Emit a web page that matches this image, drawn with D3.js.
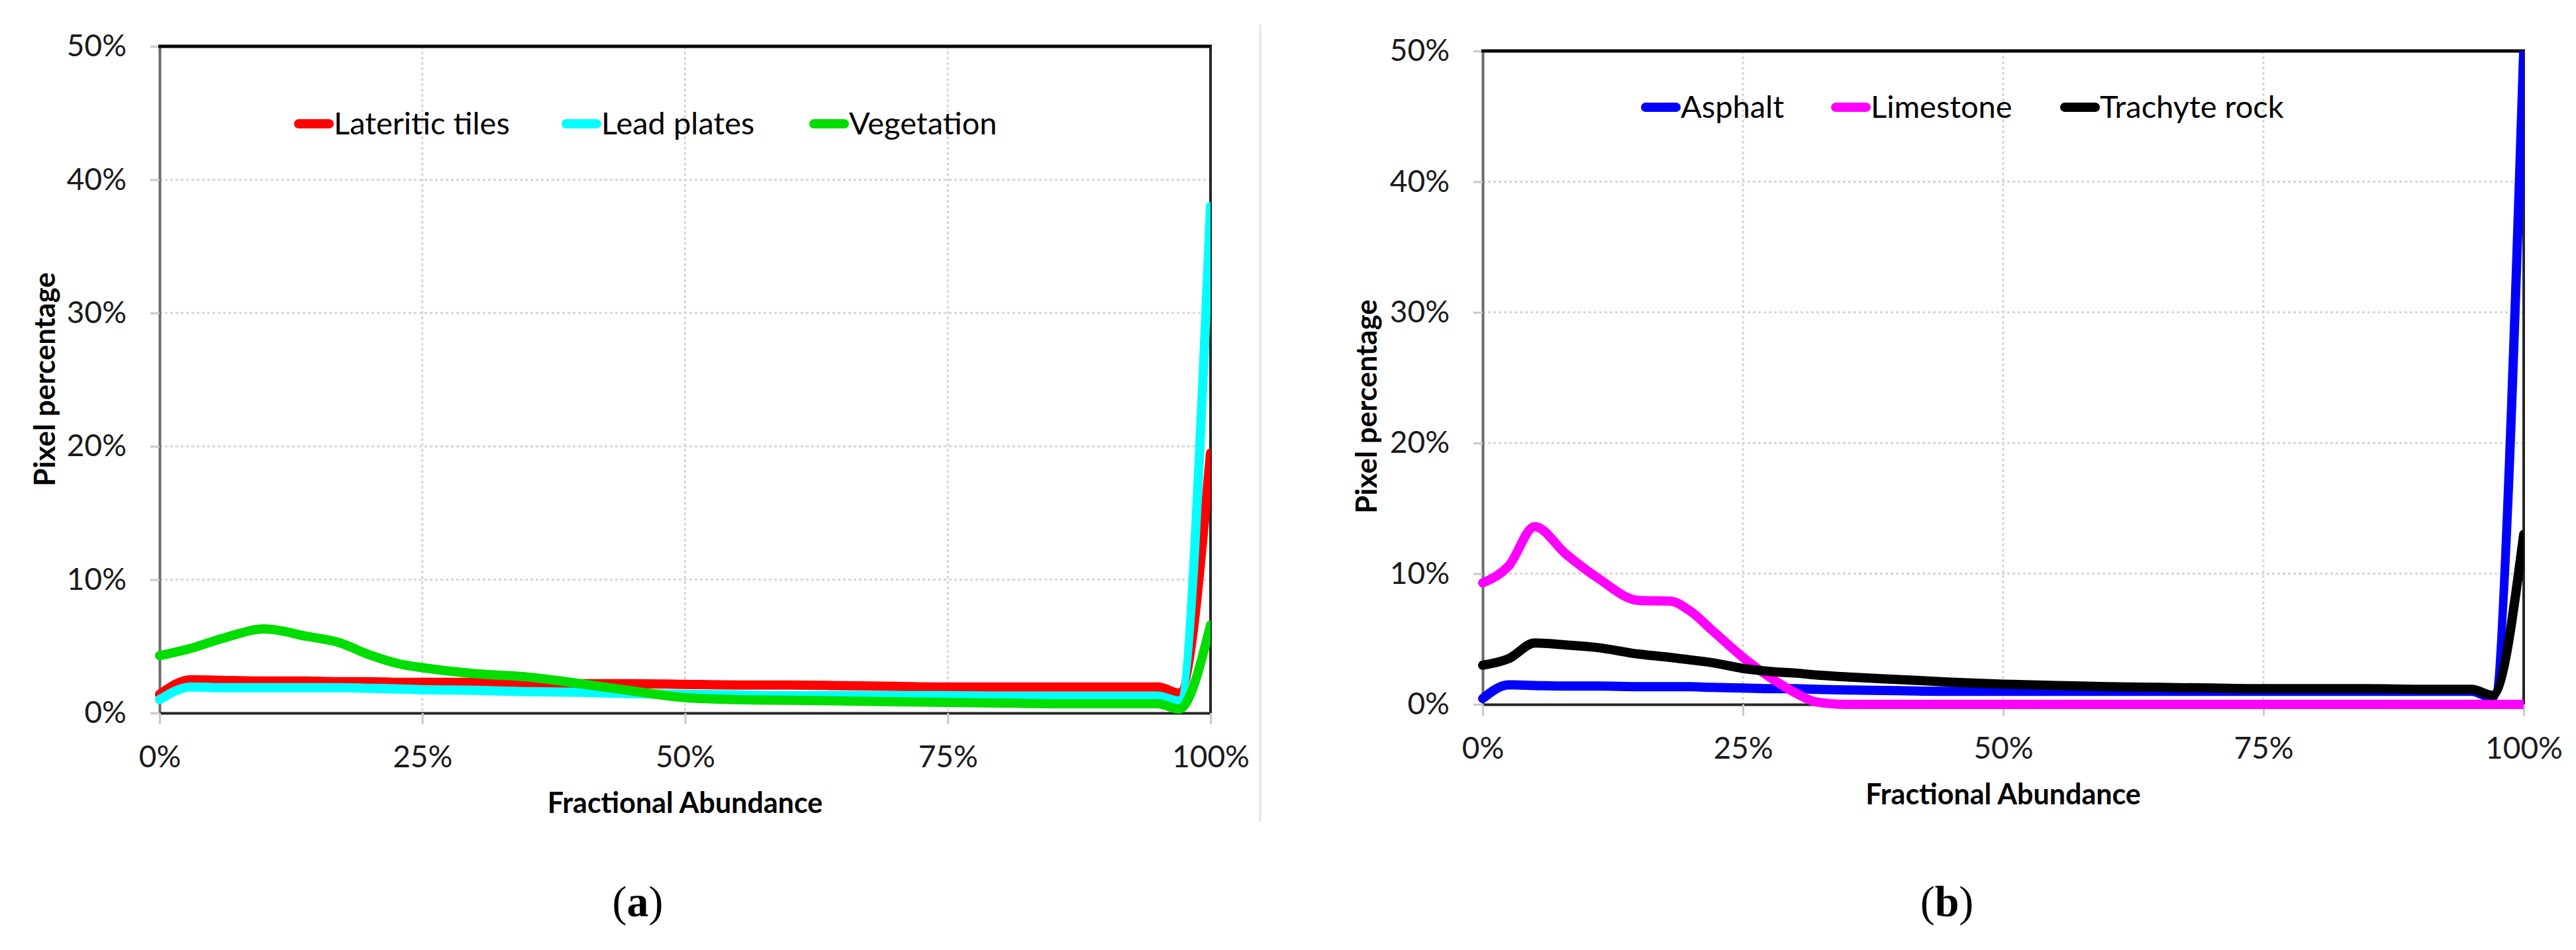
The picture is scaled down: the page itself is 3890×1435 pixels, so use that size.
<!DOCTYPE html>
<html>
<head>
<meta charset="utf-8">
<script src="https://cdn.jsdelivr.net/npm/d3@7"></script>
<style>
  body { margin: 0; background: #fff; }
  svg { display: block; }
</style>
</head>
<body>
<div id="svg-container"></div>
<script>
// axis ticks (percent)
const xTicks = [0, 25, 50, 75, 100]
const yTicks = [0, 10, 20, 30, 40, 50]

// panel (a) - fractional abundance (%) and pixel percentage (%)
const xA = [0, 3, 6, 10, 14, 17, 20, 23, 25, 30, 35, 40, 45, 50, 55, 60, 65, 70, 75, 80, 85, 90, 95, 97, 100]
const lateriticTiles = [1.4, 2.5, 2.45, 2.4, 2.4, 2.35, 2.35, 2.3, 2.3, 2.3, 2.25, 2.2, 2.2, 2.15, 2.1, 2.1, 2.05, 2.0, 1.95, 1.95, 1.95, 1.95, 1.95, 1.5, 19.5]
const leadPlates = [1.0, 1.95, 1.9, 1.9, 1.9, 1.9, 1.85, 1.8, 1.75, 1.7, 1.6, 1.55, 1.45, 1.4, 1.35, 1.3, 1.3, 1.3, 1.3, 1.25, 1.25, 1.25, 1.25, 0.9, 38]
const vegetation = [4.3, 4.85, 5.6, 6.3, 5.75, 5.3, 4.35, 3.65, 3.4, 2.95, 2.7, 2.2, 1.65, 1.15, 1.0, 0.95, 0.9, 0.85, 0.8, 0.75, 0.7, 0.7, 0.7, 0.3, 6.6]

// panel (b)
const xB = [0, 2.5, 5, 8, 11, 15, 18, 20, 22, 25, 28, 30, 32, 35, 40, 45, 50, 55, 60, 65, 70, 75, 80, 85, 90, 95, 97, 100]
const asphalt = [0.45, 1.5, 1.45, 1.4, 1.4, 1.35, 1.35, 1.35, 1.3, 1.25, 1.2, 1.2, 1.15, 1.1, 1.05, 1.0, 1.0, 1.0, 1.0, 1.0, 1.0, 1.0, 1.0, 1.0, 1.0, 1.0, 0.5, 50]
const limestone = [9.3, 10.6, 13.6, 11.5, 9.7, 7.95, 7.9, 7.1, 5.7, 3.6, 1.85, 0.9, 0.2, 0, 0, 0, 0, 0, 0, 0, 0, 0, 0, 0, 0, 0, 0, 0]
const trachyteRock = [3.0, 3.5, 4.7, 4.55, 4.35, 3.85, 3.6, 3.4, 3.2, 2.75, 2.5, 2.4, 2.25, 2.1, 1.9, 1.7, 1.55, 1.45, 1.35, 1.3, 1.25, 1.2, 1.2, 1.2, 1.15, 1.15, 0.7, 13.0]

const labelFont = 'Lato, "Open Sans", sans-serif'

const svg = d3
  .select('#svg-container')
  .append('svg')
  .attr('width', 3890)
  .attr('height', 1435)
  .attr('viewBox', '0 0 3890 1435')
  .style('background', '#fff')

// light separator between panels
svg
  .append('line')
  .attr('x1', 1903)
  .attr('x2', 1903)
  .attr('y1', 37)
  .attr('y2', 1241)
  .attr('stroke', '#e3e3e3')
  .attr('stroke-width', 3)

function drawPanel({ id, xValues, series, frame, legendY, legendXs, yTitle, caption }) {
  const { left, right, top, bottom } = frame

  const xScale = d3.scaleLinear().domain([0, 100]).range([left, right])
  const yScale = d3.scaleLinear().domain([0, 50]).range([bottom, top])

  const panel = svg.append('g').attr('class', `panel-${id}`)

  // grid (dotted)
  panel
    .append('g')
    .selectAll('line')
    .data(yTicks.filter(d => d > 0 && d < 50))
    .join('line')
    .attr('x1', left)
    .attr('x2', right)
    .attr('y1', d => yScale(d))
    .attr('y2', d => yScale(d))
    .attr('stroke', '#d6d6d6')
    .attr('stroke-width', 3)
    .attr('stroke-dasharray', '4 4')

  panel
    .append('g')
    .selectAll('line')
    .data(xTicks.filter(d => d > 0 && d < 100))
    .join('line')
    .attr('x1', d => xScale(d))
    .attr('x2', d => xScale(d))
    .attr('y1', top)
    .attr('y2', bottom)
    .attr('stroke', '#d6d6d6')
    .attr('stroke-width', 3)
    .attr('stroke-dasharray', '4 4')

  // y axis
  panel
    .append('g')
    .attr('transform', `translate(${left}, 0)`)
    .call(
      d3
        .axisLeft(yScale)
        .tickValues(yTicks)
        .tickSize(14)
        .tickSizeOuter(0)
        .tickPadding(36)
        .tickFormat(d => `${d}%`),
    )
    .call(g => {
      g.select('.domain').attr('stroke', '#6b6b6b').attr('stroke-width', 4)
      g.selectAll('.tick line').attr('stroke', '#c8c8c8').attr('stroke-width', 3)
      g.selectAll('.tick text')
        .attr('fill', '#1a1a1a')
        .style('font-family', labelFont)
        .style('font-size', '46px')
    })

  // x axis
  panel
    .append('g')
    .attr('transform', `translate(0, ${bottom})`)
    .call(
      d3
        .axisBottom(xScale)
        .tickValues(xTicks)
        .tickSize(17)
        .tickSizeOuter(0)
        .tickFormat(d => `${d}%`),
    )
    .call(g => {
      g.select('.domain').attr('stroke', '#262626').attr('stroke-width', 4)
      g.selectAll('.tick line').attr('stroke', '#c8c8c8').attr('stroke-width', 3)
      g.selectAll('.tick text')
        .attr('y', 66)
        .attr('dy', '0.35em')
        .attr('fill', '#1a1a1a')
        .style('font-family', labelFont)
        .style('font-size', '46px')
    })

  // top and right frame
  panel
    .append('line')
    .attr('x1', left - 2)
    .attr('x2', right + 2)
    .attr('y1', top)
    .attr('y2', top)
    .attr('stroke', '#000')
    .attr('stroke-width', 5)
  panel
    .append('line')
    .attr('x1', right)
    .attr('x2', right)
    .attr('y1', top)
    .attr('y2', bottom)
    .attr('stroke', '#262626')
    .attr('stroke-width', 4)

  // series lines
  panel
    .append('clipPath')
    .attr('id', `clip-${id}`)
    .append('rect')
    .attr('x', left - 10)
    .attr('y', top)
    .attr('width', right - left + 10)
    .attr('height', bottom - top + 10)

  const line = d3
    .line()
    .x((d, i) => xScale(xValues[i]))
    .y(d => yScale(d))
    .curve(d3.curveMonotoneX)

  panel
    .append('g')
    .attr('clip-path', `url(#clip-${id})`)
    .selectAll('path')
    .data(series)
    .join('path')
    .attr('d', s => line(s.values))
    .attr('fill', 'none')
    .attr('stroke', s => s.color)
    .attr('stroke-width', 14)
    .attr('stroke-linejoin', 'round')
    .attr('stroke-linecap', 'round')

  // legend
  const legend = panel
    .append('g')
    .attr('transform', `translate(0, ${legendY})`)
    .selectAll('g')
    .data(series)
    .join('g')
    .attr('transform', (s, i) => `translate(${legendXs[i]}, 0)`)

  legend
    .append('line')
    .attr('x1', 7)
    .attr('x2', 53)
    .attr('stroke', s => s.color)
    .attr('stroke-width', 14)
    .attr('stroke-linecap', 'round')

  legend
    .append('text')
    .attr('x', 60)
    .attr('dy', '0.35em')
    .style('font-family', labelFont)
    .style('font-size', '47px')
    .attr('fill', '#000')
    .text(s => s.name)

  // axis titles
  panel
    .append('text')
    .attr('x', (left + right) / 2)
    .attr('y', bottom + 136)
    .attr('dy', '0.35em')
    .attr('text-anchor', 'middle')
    .style('font-family', labelFont)
    .style('font-weight', 'bold')
    .style('font-size', '43px')
    .text('Fractional Abundance')

  panel
    .append('text')
    .attr('transform', `translate(${yTitle.x}, ${yTitle.y}) rotate(-90)`)
    .attr('text-anchor', 'middle')
    .style('font-family', labelFont)
    .style('font-weight', 'bold')
    .style('font-size', '44px')
    .text('Pixel percentage')

  // caption (a) / (b)
  const cap = svg
    .append('text')
    .attr('x', caption.x)
    .attr('y', 1361)
    .attr('dy', '0.35em')
    .attr('text-anchor', 'middle')
    .style('font-family', '"Liberation Serif", "DejaVu Serif", serif')
    .style('font-size', '66px')
  cap.append('tspan').text('(')
  cap.append('tspan').style('font-weight', 'bold').text(caption.letter)
  cap.append('tspan').text(')')
}

drawPanel({
  id: 'a',
  xValues: xA,
  series: [
    { name: 'Lateritic tiles', color: '#ff0000', values: lateriticTiles },
    { name: 'Lead plates', color: '#00ffff', values: leadPlates },
    { name: 'Vegetation', color: '#00dd00', values: vegetation },
  ],
  frame: { left: 241, right: 1828, top: 70, bottom: 1077 },
  legendY: 187,
  legendXs: [444, 848, 1222],
  yTitle: { x: 83, y: 573 },
  caption: { x: 963, letter: 'a' },
})

drawPanel({
  id: 'b',
  xValues: xB,
  series: [
    { name: 'Asphalt', color: '#0000ff', values: asphalt },
    { name: 'Limestone', color: '#ff00ff', values: limestone },
    { name: 'Trachyte rock', color: '#000000', values: trachyteRock },
  ],
  frame: { left: 2239, right: 3811, top: 77, bottom: 1064 },
  legendY: 162,
  legendXs: [2478, 2765, 3111],
  yTitle: { x: 2079, y: 614 },
  caption: { x: 2940, letter: 'b' },
})
</script>
</body>
</html>
